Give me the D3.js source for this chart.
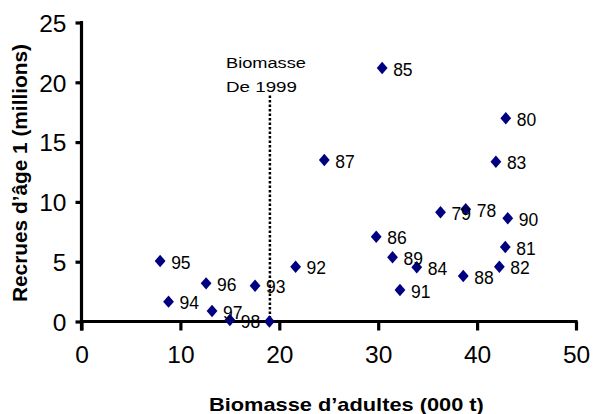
<!DOCTYPE html>
<html><head><meta charset="utf-8">
<script src="https://cdn.jsdelivr.net/npm/d3@7"></script>
<style>body{margin:0;background:#fff}svg{display:block}text{font-family:Arial,"Liberation Sans",sans-serif}</style>
</head><body><svg id="c" width="593" height="414"></svg>
<script>
const years   = ["85","80","87","83","79","78","90","86","81","89","84","92","88","82","91","95","96","93","94","97","98",""];
const biomass = [30.4,42.9,24.55,41.9,36.3,38.85,43.1,29.8,42.85,31.45,33.9,21.65,38.6,42.25,32.2,7.95,12.6,17.55,8.8,13.2,15.0,19.0];
const recruits= [21.2,17.0,13.5,13.36,9.13,9.38,8.63,7.09,6.23,5.37,4.53,4.58,3.8,4.58,2.63,5.06,3.19,2.99,1.66,0.88,0.13,0.0];
const xTicks = [0,10,20,30,40,50];
const yTicks = [0,5,10,15,20,25];
const refBiomass = 19.05, refTop = 18.9;
const annotation = ["Biomasse","De 1999"];
const xTitle = "Biomasse d’adultes (000 t)";
const yTitle = "Recrues d’âge 1 (millions)";

const svg = d3.select("#c");
const x = d3.scaleLinear().domain([0,50]).range([81.5,576]);
const y = d3.scaleLinear().domain([0,25]).range([321.5,22.5]);

// stretch a text horizontally (in its own frame) to a target length
function stretch(sel, tx, ty, target, rot) {
  sel.each(function(){
    const w = this.getComputedTextLength();
    const s = target / w;
    d3.select(this).attr("transform",`translate(${tx},${ty})${rot?` rotate(${rot})`:""} scale(${s},1)`);
  });
}

// axes
const xa = svg.append("g").attr("transform",`translate(0,${y(0)})`)
  .call(d3.axisBottom(x).tickValues(xTicks).tickSizeInner(9).tickSizeOuter(0).tickPadding(10));
const ya = svg.append("g").attr("transform",`translate(${x(0)},0)`)
  .call(d3.axisLeft(y).tickValues(yTicks).tickSizeInner(6).tickSizeOuter(0).tickPadding(9));
[xa,ya].forEach(a=>{
  a.select(".domain").attr("stroke","#000").attr("stroke-width",3.2);
  a.selectAll(".tick line").attr("stroke","#000").attr("stroke-width",3.2);
  a.selectAll(".tick text").attr("fill","#000").style("font-size","24.5px");
});
xa.selectAll(".tick text").attr("dy","0.9em");
ya.selectAll(".tick text").attr("dy","0.36em");
xa.select(".domain").attr("d",`M${x(0)-1.6},0H${x(50)+1.6}`);
ya.select(".domain").attr("d",`M0,${y(25)-1.6}V${y(0)+9}`);

// reference dotted line
svg.append("line").attr("x1",x(refBiomass)).attr("x2",x(refBiomass))
  .attr("y1",y(refTop)).attr("y2",y(0)).attr("stroke","#000")
  .attr("stroke-width",2.5).attr("stroke-dasharray","2.5,2");
const annLen = [80,71];
svg.append("g").selectAll("text").data(annotation).join("text")
  .style("font-size","15.5px").attr("fill","#000").text(d=>d)
  .each(function(d,i){ stretch(d3.select(this),226,67.5+i*24.5,annLen[i]); });

// points
const pts = biomass.map((b,i)=>({b,r:recruits[i],l:years[i]}));
svg.append("g").selectAll("path").data(pts).join("path")
  .attr("transform",d=>`translate(${x(d.b)},${y(d.r)})`)
  .attr("d","M0,-6.2L5.4,0L0,6.2L-5.4,0Z").attr("fill","#000080");
svg.append("g").selectAll("text").data(pts).join("text")
  .attr("x",d=>x(d.b)+11).attr("y",d=>y(d.r)+7.6)
  .style("font-size","17.5px").attr("fill","#000").text(d=>d.l);

// titles
stretch(svg.append("text").style("font-size","19px").style("font-weight","bold").text(xTitle), 209, 410.5, 275);
stretch(svg.append("text").style("font-size","20px").style("font-weight","bold").text(yTitle), 26.5, 302, 258, -90);
</script></body></html>
